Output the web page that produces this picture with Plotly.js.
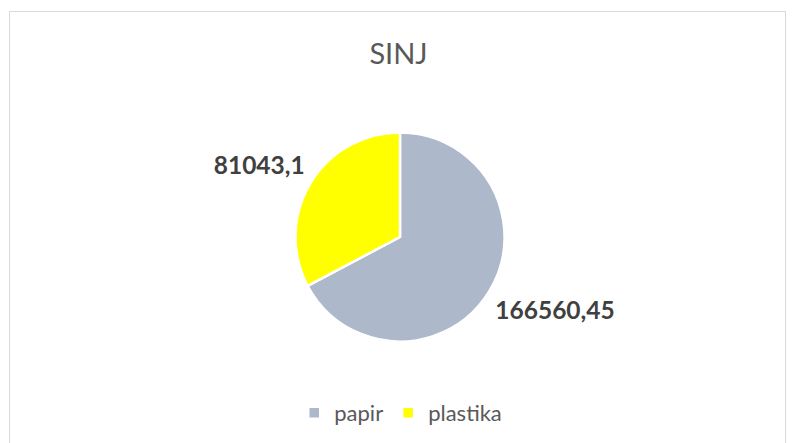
<!DOCTYPE html>
<html><head><meta charset="utf-8">
<script src="https://cdn.plot.ly/plotly-3.0.1.min.js"></script>
<style>
html,body{margin:0;padding:0;background:#fff;}
#wrap{position:relative;width:792px;height:443px;overflow:hidden;}
#frame{position:absolute;left:9px;top:11px;width:777px;height:460px;border:1.5px solid #d9d9d9;box-sizing:border-box;pointer-events:none;}
#chart{position:absolute;left:0;top:0;width:792px;height:443px;}
</style></head>
<body><div id="wrap"><div id="chart"></div><div id="frame"></div></div>
<script>
var categories = ["papir", "plastika"];
var values = [166560.45, 81043.1];
var colors = ["#adb9ca", "#ffff00"];
var labelsText = values.map(function(v){ return String(v).replace('.', ','); });

var spacer = '<span style="color:rgba(0,0,0,0)">.</span>';
// papir label sits lower (spacer line above), plastika label sits higher (spacer line below)
var templates = [spacer + '<br><b>%{text}</b>', '<b>%{text}</b><br>' + spacer];

var W = 792, H = 443, cx = 400, cy = 237, r = 104.5, rText = 93.5;
function dom(rad) {
  return {x: [(cx - rad) / W, (cx + rad) / W], y: [1 - (cy + rad) / H, 1 - (cy - rad) / H]};
}
var pieTrace = {
  type: 'pie',
  labels: categories,
  values: values,
  textinfo: 'none',
  sort: false,
  direction: 'clockwise',
  rotation: 0,
  marker: {colors: colors, line: {color: '#ffffff', width: 2.5}},
  hoverinfo: 'none',
  domain: dom(r)
};
// transparent companion pie that only carries the data labels
var labelTrace = {
  type: 'pie',
  labels: categories,
  values: values,
  text: labelsText,
  texttemplate: templates,
  textposition: 'outside',
  textfont: {family: 'Lato, "Open Sans", sans-serif', size: 24.5, color: '#404040'},
  sort: false,
  direction: 'clockwise',
  rotation: 0,
  showlegend: false,
  marker: {colors: ['rgba(0,0,0,0)', 'rgba(0,0,0,0)'], line: {width: 0}},
  hoverinfo: 'none',
  domain: dom(rText)
};
var layout = {
  width: W, height: H,
  margin: {l: 0, r: 0, t: 0, b: 0},
  paper_bgcolor: '#ffffff',
  title: {text: 'SINJ', font: {family: 'Lato, "Open Sans", sans-serif', size: 29, color: '#595959'}, x: 398.5 / W, xanchor: 'center', y: 1 - 54 / H, yanchor: 'middle'},
  showlegend: true,
  legend: {orientation: 'h', x: 0.506, xanchor: 'center', y: 1 - 413 / H, yanchor: 'middle',
    font: {family: 'Lato, "Open Sans", sans-serif', size: 22, color: '#595959'}, itemwidth: 30, traceorder: 'normal'}
};
Plotly.newPlot('chart', [pieTrace, labelTrace], layout, {displayModeBar: false, staticPlot: true});
</script></body></html>
